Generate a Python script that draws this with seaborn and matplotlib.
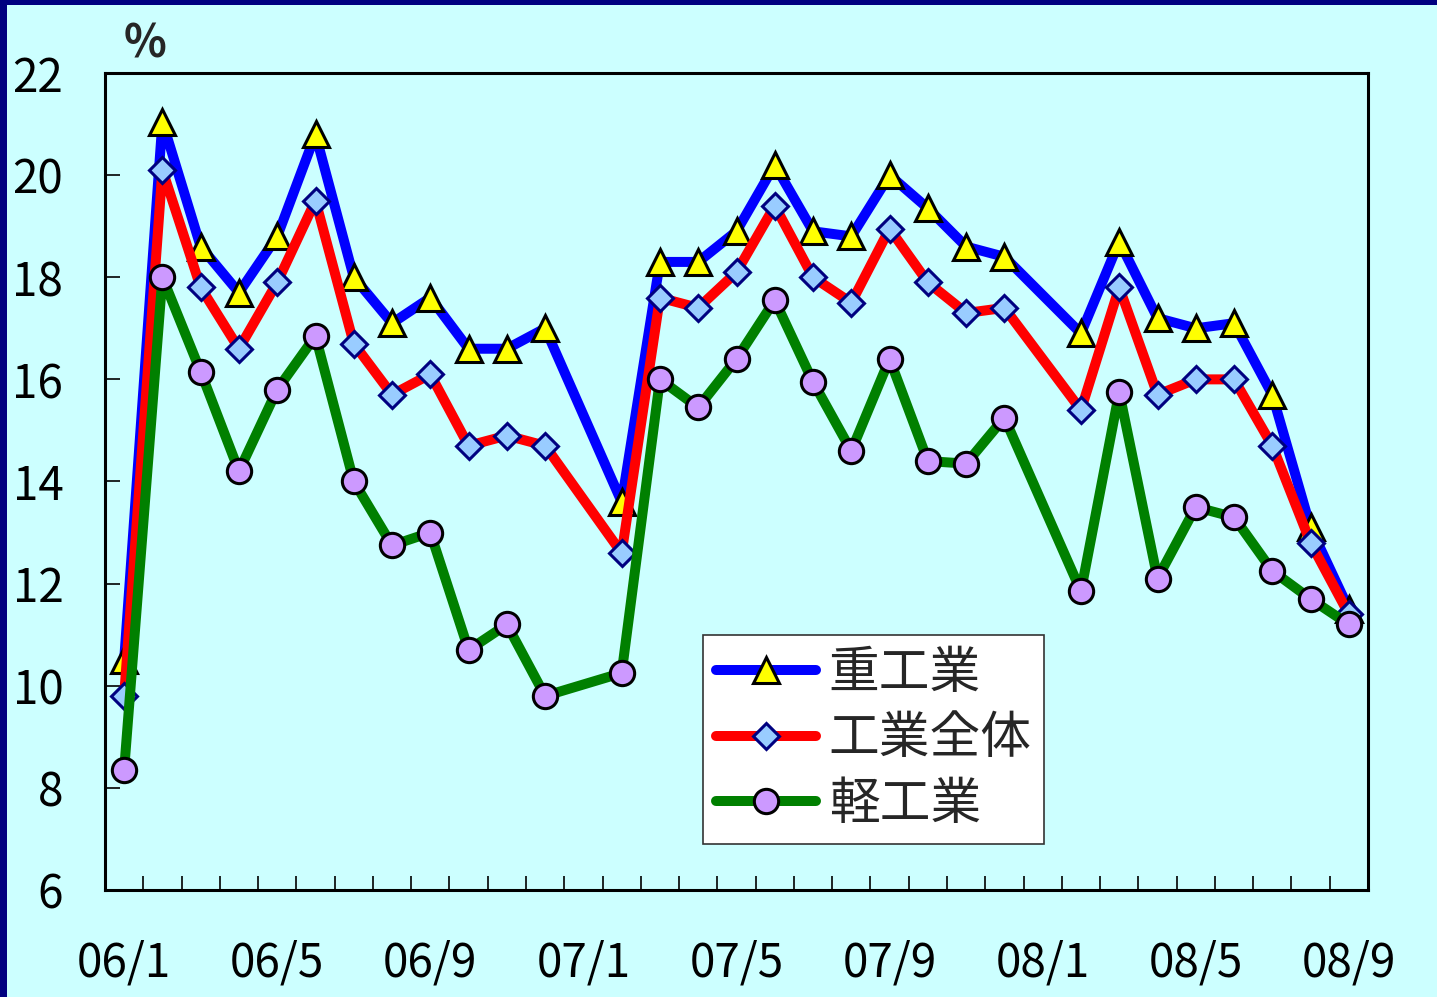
import numpy as np
import pandas as pd
import matplotlib
matplotlib.use("Agg")
import matplotlib.pyplot as plt
from matplotlib.patches import Rectangle
import seaborn as sns

# ---------------- data ----------------
all_months = [f"06/{m}" for m in range(1, 13)] + [f"07/{m}" for m in range(1, 13)] + [f"08/{m}" for m in range(1, 10)]
data_months = ([f"06/{m}" for m in range(1, 13)] + [f"07/{m}" for m in range(2, 13)] +
               [f"08/{m}" for m in range(2, 10)])
tick_labels = ["06/1", "06/5", "06/9", "07/1", "07/5", "07/9", "08/1", "08/5", "08/9"]

heavy = [10.5, 21.05, 18.6, 17.7, 18.8, 20.8, 18.0, 17.1, 17.6, 16.6, 16.6, 17.0,
         13.6, 18.3, 18.3, 18.9, 20.2, 18.9, 18.8, 20.0, 19.35, 18.6, 18.4,
         16.9, 18.7, 17.2, 17.0, 17.1, 15.7, 13.1, 11.5]
overall = [9.8, 20.1, 17.8, 16.6, 17.9, 19.5, 16.7, 15.7, 16.1, 14.7, 14.9, 14.7,
           12.6, 17.6, 17.4, 18.1, 19.4, 18.0, 17.5, 18.95, 17.9, 17.3, 17.4,
           15.4, 17.8, 15.7, 16.0, 16.0, 14.7, 12.8, 11.4]
light = [8.35, 18.0, 16.15, 14.2, 15.8, 16.85, 14.0, 12.75, 13.0, 10.7, 11.2, 9.8,
         10.25, 16.0, 15.45, 16.4, 17.55, 15.95, 14.6, 16.4, 14.4, 14.35, 15.25,
         11.85, 15.75, 12.1, 13.5, 13.3, 12.25, 11.7, 11.2]
series_names = ["重工業", "工業全体", "軽工業"]

# ---------------- style ----------------
sns.set_style("ticks")
plt.rcParams['font.family'] = ['Noto Sans CJK JP', 'DejaVu Sans']
BG = "#CCFFFF"

fig = plt.figure(figsize=(14.37, 9.97), dpi=100, facecolor=BG)
ax = fig.add_axes([105/1437, 1 - 890/997, (1368-105)/1437, (890-73)/997])
ax.set_facecolor(BG)

xidx = [all_months.index(m) for m in data_months]
df = pd.DataFrame({"x": xidx, "heavy": heavy, "overall": overall, "light": light})

styles = [
    ("heavy", "#0000FF", "^", 19, "#FFFF00", "black"),
    ("overall", "#FF0000", "D", 13.5, "#99CCFF", "#000080"),
    ("light", "#008000", "o", 17.5, "#CC99FF", "black"),
]
for (col, color, mk, ms, mfc, mec), name in zip(styles, series_names):
    sns.lineplot(data=df, x="x", y=col, ax=ax, color=color, linewidth=7.2,
                 marker=mk, markersize=ms, markerfacecolor=mfc, markeredgecolor=mec,
                 markeredgewidth=2.2, errorbar=None, label=name, legend=False,
                 solid_capstyle="round")

ax.set_xlim(-0.5, len(all_months) - 0.5)
ax.set_ylim(6, 22)
ax.set_xlabel("")
ax.set_ylabel("")

ax.set_xticks([all_months.index(t) for t in tick_labels])
ax.set_xticklabels(tick_labels)
ax.set_xticks(np.arange(0.5, len(all_months) - 1, 1.0), minor=True)
ax.tick_params(axis="x", which="major", length=0, pad=35, labelsize=33, colors="black")
ax.tick_params(axis="x", which="minor", direction="in", length=10, width=1.2, color="black")
ax.set_yticks(np.arange(6, 23, 2))
ax.tick_params(axis="y", which="major", direction="in", length=11, width=1.2,
               pad=30, labelsize=33, colors="black")
ax.tick_params(axis="y", which="minor", length=0)
for s in ax.spines.values():
    s.set_visible(True)
    s.set_color("black")
    s.set_linewidth(2.2)

ax.text(0.101, 1 - 45/997, "%", transform=fig.transFigure, fontsize=32,
        fontweight="bold", ha="center", va="center")

leg = ax.legend(loc="upper left", bbox_to_anchor=((703-105)/1263, (890-635)/817),
                borderaxespad=0, fontsize=36.5, frameon=True, fancybox=False,
                handlelength=1.98, handletextpad=0.25, labelspacing=0.27,
                borderpad=0.25, framealpha=1)
leg.get_frame().set_facecolor("white")
leg.get_frame().set_edgecolor("#333333")
leg.get_frame().set_linewidth(1.2)

# navy border on top and left
fig.add_artist(Rectangle((0, 1 - 5/997), 1, 5/997, transform=fig.transFigure,
                         facecolor="#000080", edgecolor="none"))
fig.add_artist(Rectangle((0, 0), 7/1437, 1, transform=fig.transFigure,
                         facecolor="#000080", edgecolor="none"))

fig.savefig("out.png", dpi=100, facecolor=BG)
